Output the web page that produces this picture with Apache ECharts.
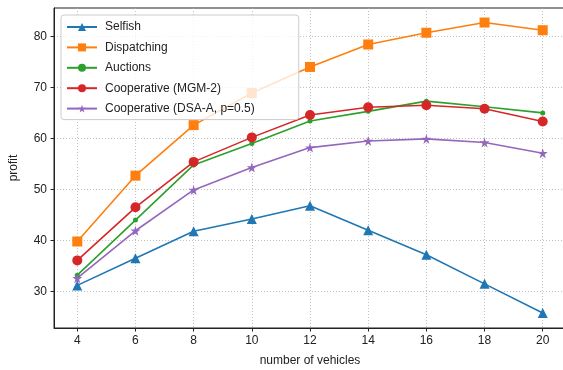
<!DOCTYPE html>
<html><head><meta charset="utf-8">
<script src="https://cdn.jsdelivr.net/npm/echarts@6/dist/echarts.min.js"></script>
<style>html,body{margin:0;padding:0;background:#fff}#c{width:563px;height:370px}</style>
</head><body><div id="c"></div>
<script>
const vehicles = [4, 6, 8, 10, 12, 14, 16, 18, 20];
const selfish = [31.2, 36.5, 41.8, 44.2, 46.8, 42.0, 37.2, 31.5, 25.8];
const dispatching = [39.8, 52.7, 62.6, 68.9, 74.0, 78.4, 80.7, 82.7, 81.2];
const auctions = [33.2, 44.0, 54.8, 59.0, 63.4, 65.3, 67.3, 66.2, 65.0];
const mgm2 = [36.1, 46.5, 55.4, 60.2, 64.6, 66.1, 66.5, 65.8, 63.3];
const dsaA = [32.6, 41.9, 49.9, 54.3, 58.2, 59.5, 59.9, 59.2, 57.1];
const xTicks = [4, 6, 8, 10, 12, 14, 16, 18, 20];
const yTicks = [30, 40, 50, 60, 70, 80];
const names = ['Selfish', 'Dispatching', 'Auctions', 'Cooperative (MGM-2)', 'Cooperative (DSA-A, p=0.5)'];

const star = 'path://M50,0 L61,35 L98,35 L68,57 L79,91 L50,70 L21,91 L32,57 L2,35 L39,35 Z';
const font = 'Liberation Sans';
function pts(arr){ return vehicles.map((v,i)=>[v, arr[i]]); }
function mk(name, arr, color, symbol, size){
  return {name, type:'line', data:pts(arr), symbol, symbolSize:size,
    lineStyle:{color, width:1.6}, itemStyle:{color, borderWidth:0}, color,
    emphasis:{disabled:true}, animation:false};
}
const chart = echarts.init(document.getElementById('c'));
chart.setOption({
  animation:false,
  grid:{left:54, top:8, width:512, height:320, show:true, borderColor:'#222', borderWidth:1,
    containLabel:false, outerBoundsMode:'none'},
  xAxis:{type:'value', min:3.2, max:20.8, name:'number of vehicles', nameLocation:'middle', nameGap:27,
    nameTextStyle:{fontFamily:font, fontSize:12, color:'#222'},
    axisLine:{lineStyle:{color:'#222'}},
    axisTick:{customValues:xTicks, length:3.5, lineStyle:{color:'#222'}},
    axisLabel:{customValues:xTicks, fontFamily:font, fontSize:12, color:'#222', margin:7},
    splitLine:{show:true, lineStyle:{color:'#b0b0b0', type:[1,2], width:0.8}}},
  yAxis:{type:'value', min:22.85, max:85.55, name:'profit', nameLocation:'middle', nameGap:34,
    nameTextStyle:{fontFamily:font, fontSize:12, color:'#222'},
    axisLine:{show:true, lineStyle:{color:'#222'}},
    axisTick:{show:true, customValues:yTicks, length:3.5, lineStyle:{color:'#222'}},
    axisLabel:{customValues:yTicks, fontFamily:font, fontSize:12, color:'#222', margin:7},
    splitLine:{show:true, lineStyle:{color:'#b0b0b0', type:[1,2], width:0.8}}},
  legend:{orient:'vertical', left:61, top:15, data:names,
    backgroundColor:'rgba(255,255,255,0.8)', borderColor:'#ccc', borderWidth:1, borderRadius:3,
    padding:[6,44,5,5], itemWidth:30, itemHeight:10, itemGap:8.4,
    textStyle:{fontFamily:font, fontSize:12, color:'#222', lineHeight:12, padding:[0,0,0,3]}},
  series:[
    mk(names[0], selfish, '#1f77b4', 'triangle', 10),
    mk(names[1], dispatching, '#ff7f0e', 'rect', 10),
    mk(names[2], auctions, '#2ca02c', 'circle', 5),
    mk(names[3], mgm2, '#d62728', 'circle', 10),
    mk(names[4], dsaA, '#9467bd', star, 10)
  ]
});
</script></body></html>
